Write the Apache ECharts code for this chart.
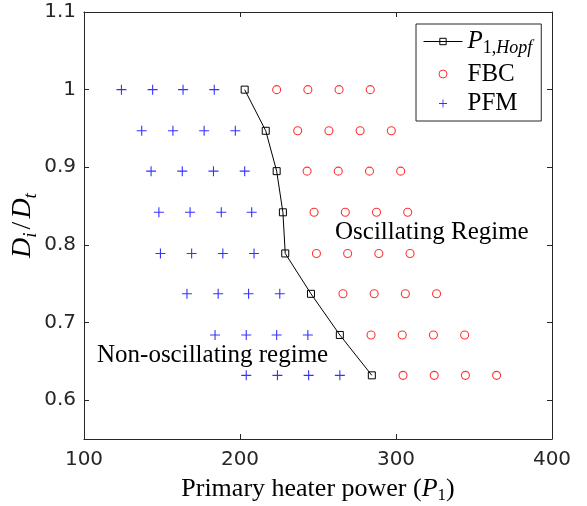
<!DOCTYPE html>
<html>
<head>
<meta charset="utf-8">
<script src="https://cdn.jsdelivr.net/npm/echarts@6/dist/echarts.min.js"></script>
<style>
  html, body { margin: 0; padding: 0; background: #ffffff; }
  #chart { width: 587px; height: 506px; }
</style>
</head>
<body>
<div id="chart"></div>
<script>
// Diameter ratio rows (D_i / D_t) of the test matrix
const diameterRatio = [1.0, 0.947, 0.895, 0.842, 0.789, 0.737, 0.684, 0.632];

// Hopf point: primary heater power at the onset of oscillations, one per row
const hopfPower = [203, 216.5, 223.5, 227.5, 229, 245.5, 264, 284.5];

// Powers where the system settles to a fixed point (PFM), one list per row
const pfmPower = [
  [124, 144, 163.5, 183.5],
  [137, 157, 177, 197],
  [143, 163, 183, 203],
  [148, 168, 188, 207.5],
  [149, 169, 189, 209],
  [166, 186, 205.5, 225.5],
  [184, 204, 223.5, 243.5],
  [204, 224, 244, 264]
];

// Powers where flow-boiling cycles (FBC) were observed, one list per row
const fbcPower = [
  [223.5, 243.5, 263.5, 283.5],
  [237, 257, 277, 297],
  [243, 263, 283, 303],
  [247.5, 267.5, 287.5, 307.5],
  [249, 269, 289, 309],
  [266, 286, 306, 326],
  [284, 304, 324, 344],
  [304.5, 324.5, 344.5, 364.5]
];

// Axis ticks
const xTicks = [100, 200, 300, 400];
const yTicks = [0.6, 0.7, 0.8, 0.9, 1.0, 1.1];

const SERIF = 'Liberation Serif';
const SANS = 'DejaVu Sans';
const AXIS_COLOR = '#262626';

const hopfPoints = hopfPower.map((p, i) => [p, diameterRatio[i]]);
const pfmPoints = pfmPower.flatMap((row, i) => row.map(p => [p, diameterRatio[i]]));
const fbcPoints = fbcPower.flatMap((row, i) => row.map(p => [p, diameterRatio[i]]));

// thin filled cross used for the PFM marker
const PLUS = 'path://M4.45,0H5.55V4.45H10V5.55H5.55V10H4.45V5.55H0V4.45H4.45Z';

// rich-text styles for math-like labels (italic symbols with subscripts)
function mathRich(size, subSize, drop) {
  return {
    it:   { fontFamily: SERIF, fontStyle: 'italic', fontSize: size, lineHeight: size, color: '#000', verticalAlign: 'top' },
    rm:   { fontFamily: SERIF, fontSize: size, lineHeight: size, color: '#000', verticalAlign: 'top' },
    sl:   { fontFamily: SERIF, fontSize: size, lineHeight: size, color: '#000', verticalAlign: 'top', padding: [0, 3, 0, 3] },
    sub:  { fontFamily: SERIF, fontSize: subSize, lineHeight: subSize, color: '#000', verticalAlign: 'top', padding: [drop, 0, 0, 0] },
    subi: { fontFamily: SERIF, fontStyle: 'italic', fontSize: subSize, lineHeight: subSize, color: '#000', verticalAlign: 'top', padding: [drop, 0, 0, 0] }
  };
}

const tickStyle = { show: true, inside: true, length: 5, lineStyle: { color: AXIS_COLOR, width: 1 } };
const lineStyle = { show: true, lineStyle: { color: AXIS_COLOR, width: 1 } };

const chart = echarts.init(document.getElementById('chart'), null, { renderer: 'canvas' });

chart.setOption({
  backgroundColor: '#ffffff',
  animation: false,
  grid: { left: 84, right: 35, top: 12, bottom: 67, containLabel: false, outerBoundsMode: 'none' },
  xAxis: [
    {
      type: 'value', min: xTicks[0], max: xTicks[xTicks.length - 1], interval: 100,
      position: 'bottom',
      axisLine: lineStyle, axisTick: tickStyle, splitLine: { show: false },
      axisLabel: { color: AXIS_COLOR, fontFamily: SANS, fontSize: 20, margin: 11 },
      name: '{rm|Primary heater power (}{it|P}{sub|1}{rm|)}',
      nameLocation: 'middle', nameGap: 37, nameMoveOverlap: false,
      nameTextStyle: { rich: mathRich(26, 17, 11) }
    },
    {
      type: 'value', min: xTicks[0], max: xTicks[xTicks.length - 1], interval: 100,
      position: 'top',
      axisLine: lineStyle, axisTick: tickStyle, splitLine: { show: false },
      axisLabel: { show: false }
    }
  ],
  yAxis: [
    {
      type: 'value', min: 0.55, max: 1.1,
      position: 'left',
      axisLine: lineStyle,
      axisTick: Object.assign({}, tickStyle, { customValues: yTicks }),
      splitLine: { show: false },
      axisLabel: { color: AXIS_COLOR, fontFamily: SANS, fontSize: 20, margin: 8, customValues: yTicks },
      name: '{it|D}{subi|i}{sl|/}{it|D}{subi|t}',
      nameLocation: 'middle', nameGap: 47, nameRotate: 90, nameMoveOverlap: false,
      nameTextStyle: { rich: mathRich(28, 19, 12) }
    },
    {
      type: 'value', min: 0.55, max: 1.1,
      position: 'right',
      axisLine: lineStyle,
      axisTick: Object.assign({}, tickStyle, { customValues: yTicks }),
      splitLine: { show: false },
      axisLabel: { show: false, customValues: yTicks }
    }
  ],
  legend: {
    orient: 'vertical',
    left: 416, top: 24,
    padding: [5, 9, 5, 7],
    itemWidth: 39, itemHeight: 8, itemGap: 4.5,
    align: 'left',
    backgroundColor: '#ffffff',
    borderColor: AXIS_COLOR, borderWidth: 1,
    itemStyle: { borderWidth: 1 },
    lineStyle: { width: 1 },
    textStyle: {
      fontFamily: SERIF, fontSize: 25, lineHeight: 24, color: '#000',
      rich: mathRich(25, 18, 10)
    },
    formatter: name => name === 'hopf' ? '{it|P}{sub|1,}{subi|Hopf}' : '{rm|' + name + '}',
    data: ['hopf', 'FBC', 'PFM']
  },
  graphic: [
    {
      type: 'text', x: 335, y: 232,
      style: { text: 'Oscillating Regime', fontFamily: SERIF, fontSize: 25, fill: '#000', verticalAlign: 'middle' }
    },
    {
      type: 'text', x: 97, y: 355,
      style: { text: 'Non-oscillating regime', fontFamily: SERIF, fontSize: 25, fill: '#000', verticalAlign: 'middle' }
    }
  ],
  series: [
    {
      name: 'hopf', type: 'line', data: hopfPoints,
      symbol: 'rect', symbolSize: 7,
      itemStyle: { color: 'transparent', borderColor: '#000', borderWidth: 1 },
      lineStyle: { color: '#000', width: 1 },
      z: 3
    },
    {
      name: 'FBC', type: 'scatter', data: fbcPoints,
      symbol: 'circle', symbolSize: 8,
      itemStyle: { color: 'transparent', borderColor: '#ff0000', borderWidth: 1.1 },
      z: 2
    },
    {
      name: 'PFM', type: 'scatter', data: pfmPoints,
      symbol: PLUS, symbolSize: 10,
      itemStyle: { color: '#0000ff' },
      z: 2
    }
  ]
});
</script>
</body>
</html>
